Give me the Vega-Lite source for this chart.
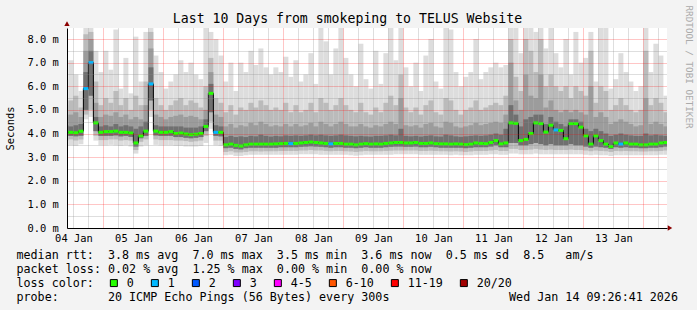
{
"$schema": "https://vega.github.io/schema/vega-lite/v6.json",
"width": 600, "height": 200,
"autosize": {"type": "none"},
"padding": {"left": 67, "top": 28, "right": 30, "bottom": 82},
"background": "#f3f3f3",
"title": {"text": "Last 10 Days from smokeping to TELUS Website", "font": "DejaVu Sans Mono", "fontSize": 13.2, "fontWeight": "normal", "color": "#000000", "anchor": "middle", "frame": "group", "dx": -19.5, "dy": 35, "baseline": "alphabetic", "offset": 4},
"data": {"values": [
{"t":"2026-01-04T08:00","u":"2026-01-04T10:00","a":6.3,"b":5.2,"c":4.7,"d":4.35,"m":4.05,"e":3.9,"f":3.7,"h":3.5,"l":"0"},
{"t":"2026-01-04T10:00","u":"2026-01-04T12:00","a":7.1,"b":5.4,"c":4.8,"d":4.3,"m":4.05,"e":3.9,"f":3.75,"h":3.5,"l":"0"},
{"t":"2026-01-04T12:00","u":"2026-01-04T14:00","a":6.5,"b":5.6,"c":4.9,"d":4.35,"m":4.03,"e":3.88,"f":3.7,"h":3.48,"l":"0"},
{"t":"2026-01-04T14:00","u":"2026-01-04T16:00","a":5.8,"b":5.1,"c":4.7,"d":4.4,"m":4.1,"e":3.9,"f":3.75,"h":3.55,"l":"0"},
{"t":"2026-01-04T16:00","u":"2026-01-04T18:00","a":8.47,"b":8.2,"c":7.5,"d":6.6,"m":5.9,"e":5.0,"f":4.8,"h":4.6,"l":"1"},
{"t":"2026-01-04T18:00","u":"2026-01-04T20:00","a":8.47,"b":8.3,"c":8.0,"d":7.5,"m":7.0,"e":5.6,"f":5.0,"h":4.7,"l":"1"},
{"t":"2026-01-04T20:00","u":"2026-01-04T22:00","a":7.5,"b":6.2,"c":5.3,"d":4.7,"m":4.45,"e":4.1,"f":3.9,"h":3.7,"l":"0"},
{"t":"2026-01-04T22:00","u":"2026-01-05T00:00","a":6.6,"b":5.2,"c":4.7,"d":4.3,"m":4.05,"e":3.9,"f":3.72,"h":3.5,"l":"0"},
{"t":"2026-01-05T00:00","u":"2026-01-05T02:00","a":7.5,"b":5.5,"c":4.8,"d":4.35,"m":4.08,"e":3.9,"f":3.72,"h":3.5,"l":"0"},
{"t":"2026-01-05T02:00","u":"2026-01-05T04:00","a":6.7,"b":5.3,"c":4.75,"d":4.3,"m":4.08,"e":3.9,"f":3.75,"h":3.52,"l":"0"},
{"t":"2026-01-05T04:00","u":"2026-01-05T06:00","a":8.4,"b":5.8,"c":4.9,"d":4.4,"m":4.1,"e":3.92,"f":3.75,"h":3.5,"l":"0"},
{"t":"2026-01-05T06:00","u":"2026-01-05T08:00","a":5.9,"b":5.2,"c":4.7,"d":4.3,"m":4.05,"e":3.88,"f":3.7,"h":3.48,"l":"0"},
{"t":"2026-01-05T08:00","u":"2026-01-05T10:00","a":7.2,"b":5.5,"c":4.8,"d":4.35,"m":4.05,"e":3.9,"f":3.72,"h":3.5,"l":"0"},
{"t":"2026-01-05T10:00","u":"2026-01-05T12:00","a":5.7,"b":5.0,"c":4.6,"d":4.3,"m":4.02,"e":3.86,"f":3.7,"h":3.45,"l":"0"},
{"t":"2026-01-05T12:00","u":"2026-01-05T14:00","a":8.1,"b":5.6,"c":4.7,"d":4.2,"m":3.6,"e":3.45,"f":3.3,"h":3.15,"l":"0"},
{"t":"2026-01-05T14:00","u":"2026-01-05T16:00","a":6.2,"b":5.2,"c":4.6,"d":4.3,"m":3.9,"e":3.8,"f":3.65,"h":3.45,"l":"0"},
{"t":"2026-01-05T16:00","u":"2026-01-05T18:00","a":8.3,"b":6.2,"c":5.2,"d":4.5,"m":4.1,"e":3.9,"f":3.75,"h":3.5,"l":"0"},
{"t":"2026-01-05T18:00","u":"2026-01-05T20:00","a":8.47,"b":8.3,"c":7.6,"d":6.8,"m":6.1,"e":5.4,"f":5.0,"h":4.7,"l":"1"},
{"t":"2026-01-05T20:00","u":"2026-01-05T22:00","a":7.3,"b":5.5,"c":4.8,"d":4.35,"m":4.1,"e":3.92,"f":3.75,"h":3.52,"l":"0"},
{"t":"2026-01-05T22:00","u":"2026-01-06T00:00","a":6.6,"b":5.2,"c":4.7,"d":4.3,"m":4.05,"e":3.9,"f":3.72,"h":3.5,"l":"0"},
{"t":"2026-01-06T00:00","u":"2026-01-06T02:00","a":5.9,"b":5.0,"c":4.6,"d":4.3,"m":4.05,"e":3.9,"f":3.72,"h":3.5,"l":"0"},
{"t":"2026-01-06T02:00","u":"2026-01-06T04:00","a":6.2,"b":5.2,"c":4.7,"d":4.3,"m":4.08,"e":3.9,"f":3.72,"h":3.5,"l":"0"},
{"t":"2026-01-06T04:00","u":"2026-01-06T06:00","a":6.5,"b":5.4,"c":4.75,"d":4.3,"m":4.0,"e":3.85,"f":3.7,"h":3.48,"l":"0"},
{"t":"2026-01-06T06:00","u":"2026-01-06T08:00","a":7.1,"b":5.5,"c":4.8,"d":4.3,"m":4.02,"e":3.85,"f":3.7,"h":3.48,"l":"0"},
{"t":"2026-01-06T08:00","u":"2026-01-06T10:00","a":6.6,"b":5.2,"c":4.7,"d":4.25,"m":3.98,"e":3.82,"f":3.68,"h":3.45,"l":"0"},
{"t":"2026-01-06T10:00","u":"2026-01-06T12:00","a":7.0,"b":5.4,"c":4.75,"d":4.25,"m":3.95,"e":3.8,"f":3.65,"h":3.45,"l":"0"},
{"t":"2026-01-06T12:00","u":"2026-01-06T14:00","a":6.5,"b":5.3,"c":4.7,"d":4.25,"m":3.97,"e":3.82,"f":3.67,"h":3.45,"l":"0"},
{"t":"2026-01-06T14:00","u":"2026-01-06T16:00","a":6.3,"b":5.1,"c":4.6,"d":4.3,"m":4.0,"e":3.85,"f":3.7,"h":3.47,"l":"0"},
{"t":"2026-01-06T16:00","u":"2026-01-06T18:00","a":8.47,"b":6.0,"c":5.0,"d":4.6,"m":4.3,"e":4.1,"f":3.9,"h":3.6,"l":"0"},
{"t":"2026-01-06T18:00","u":"2026-01-06T20:00","a":8.3,"b":7.2,"c":6.6,"d":6.1,"m":5.7,"e":4.9,"f":4.5,"h":4.2,"l":"0"},
{"t":"2026-01-06T20:00","u":"2026-01-06T22:00","a":8.0,"b":5.5,"c":4.8,"d":4.35,"m":4.05,"e":3.9,"f":3.7,"h":3.5,"l":"1"},
{"t":"2026-01-06T22:00","u":"2026-01-07T00:00","a":7.3,"b":5.3,"c":4.7,"d":4.3,"m":4.05,"e":3.88,"f":3.7,"h":3.48,"l":"0"},
{"t":"2026-01-07T00:00","u":"2026-01-07T02:00","a":6.2,"b":4.9,"c":4.3,"d":3.85,"m":3.52,"e":3.38,"f":3.22,"h":3.08,"l":"0"},
{"t":"2026-01-07T02:00","u":"2026-01-07T04:00","a":7.0,"b":5.2,"c":4.4,"d":3.9,"m":3.55,"e":3.4,"f":3.25,"h":3.1,"l":"0"},
{"t":"2026-01-07T04:00","u":"2026-01-07T06:00","a":5.8,"b":4.8,"c":4.25,"d":3.85,"m":3.5,"e":3.35,"f":3.2,"h":3.05,"l":"0"},
{"t":"2026-01-07T06:00","u":"2026-01-07T08:00","a":7.0,"b":5.1,"c":4.35,"d":3.88,"m":3.47,"e":3.33,"f":3.2,"h":3.05,"l":"0"},
{"t":"2026-01-07T08:00","u":"2026-01-07T10:00","a":6.6,"b":5.0,"c":4.3,"d":3.85,"m":3.52,"e":3.38,"f":3.22,"h":3.08,"l":"0"},
{"t":"2026-01-07T10:00","u":"2026-01-07T12:00","a":7.5,"b":5.3,"c":4.45,"d":3.9,"m":3.55,"e":3.4,"f":3.25,"h":3.1,"l":"0"},
{"t":"2026-01-07T12:00","u":"2026-01-07T14:00","a":6.9,"b":5.1,"c":4.35,"d":3.88,"m":3.55,"e":3.4,"f":3.25,"h":3.1,"l":"0"},
{"t":"2026-01-07T14:00","u":"2026-01-07T16:00","a":7.6,"b":5.4,"c":4.5,"d":3.95,"m":3.55,"e":3.4,"f":3.24,"h":3.1,"l":"0"},
{"t":"2026-01-07T16:00","u":"2026-01-07T18:00","a":6.8,"b":5.2,"c":4.4,"d":3.9,"m":3.55,"e":3.4,"f":3.25,"h":3.1,"l":"0"},
{"t":"2026-01-07T18:00","u":"2026-01-07T20:00","a":6.5,"b":5.0,"c":4.3,"d":3.87,"m":3.55,"e":3.4,"f":3.25,"h":3.1,"l":"0"},
{"t":"2026-01-07T20:00","u":"2026-01-07T22:00","a":6.8,"b":5.1,"c":4.35,"d":3.9,"m":3.56,"e":3.4,"f":3.25,"h":3.1,"l":"0"},
{"t":"2026-01-07T22:00","u":"2026-01-08T00:00","a":6.6,"b":5.0,"c":4.3,"d":3.88,"m":3.57,"e":3.42,"f":3.26,"h":3.1,"l":"0"},
{"t":"2026-01-08T00:00","u":"2026-01-08T02:00","a":7.25,"b":5.3,"c":4.4,"d":3.92,"m":3.58,"e":3.42,"f":3.26,"h":3.1,"l":"0"},
{"t":"2026-01-08T02:00","u":"2026-01-08T04:00","a":6.4,"b":4.9,"c":4.3,"d":3.9,"m":3.57,"e":3.42,"f":3.26,"h":3.1,"l":"1"},
{"t":"2026-01-08T04:00","u":"2026-01-08T06:00","a":7.1,"b":5.2,"c":4.4,"d":3.92,"m":3.58,"e":3.42,"f":3.26,"h":3.1,"l":"0"},
{"t":"2026-01-08T06:00","u":"2026-01-08T08:00","a":6.2,"b":4.9,"c":4.3,"d":3.9,"m":3.6,"e":3.44,"f":3.28,"h":3.12,"l":"0"},
{"t":"2026-01-08T08:00","u":"2026-01-08T10:00","a":6.5,"b":5.0,"c":4.35,"d":3.92,"m":3.62,"e":3.45,"f":3.28,"h":3.12,"l":"0"},
{"t":"2026-01-08T10:00","u":"2026-01-08T12:00","a":7.4,"b":5.3,"c":4.45,"d":3.95,"m":3.64,"e":3.46,"f":3.3,"h":3.12,"l":"0"},
{"t":"2026-01-08T12:00","u":"2026-01-08T14:00","a":6.1,"b":4.9,"c":4.3,"d":3.92,"m":3.62,"e":3.45,"f":3.28,"h":3.12,"l":"0"},
{"t":"2026-01-08T14:00","u":"2026-01-08T16:00","a":8.47,"b":5.5,"c":4.5,"d":3.95,"m":3.6,"e":3.44,"f":3.28,"h":3.1,"l":"0"},
{"t":"2026-01-08T16:00","u":"2026-01-08T18:00","a":7.9,"b":5.3,"c":4.4,"d":3.92,"m":3.58,"e":3.42,"f":3.26,"h":3.1,"l":"0"},
{"t":"2026-01-08T18:00","u":"2026-01-08T20:00","a":6.5,"b":5.0,"c":4.3,"d":3.9,"m":3.56,"e":3.4,"f":3.25,"h":3.1,"l":"1"},
{"t":"2026-01-08T20:00","u":"2026-01-08T22:00","a":7.6,"b":5.2,"c":4.4,"d":3.92,"m":3.58,"e":3.42,"f":3.26,"h":3.1,"l":"0"},
{"t":"2026-01-08T22:00","u":"2026-01-09T00:00","a":8.47,"b":5.5,"c":4.5,"d":3.95,"m":3.58,"e":3.42,"f":3.26,"h":3.1,"l":"0"},
{"t":"2026-01-09T00:00","u":"2026-01-09T02:00","a":7.2,"b":5.2,"c":4.4,"d":3.92,"m":3.55,"e":3.4,"f":3.25,"h":3.1,"l":"0"},
{"t":"2026-01-09T02:00","u":"2026-01-09T04:00","a":6.5,"b":5.0,"c":4.3,"d":3.9,"m":3.55,"e":3.4,"f":3.24,"h":3.08,"l":"0"},
{"t":"2026-01-09T04:00","u":"2026-01-09T06:00","a":6.0,"b":4.9,"c":4.3,"d":3.88,"m":3.52,"e":3.38,"f":3.22,"h":3.06,"l":"0"},
{"t":"2026-01-09T06:00","u":"2026-01-09T08:00","a":7.8,"b":5.3,"c":4.4,"d":3.9,"m":3.55,"e":3.4,"f":3.24,"h":3.08,"l":"0"},
{"t":"2026-01-09T08:00","u":"2026-01-09T10:00","a":6.3,"b":4.9,"c":4.3,"d":3.88,"m":3.57,"e":3.42,"f":3.26,"h":3.1,"l":"0"},
{"t":"2026-01-09T10:00","u":"2026-01-09T12:00","a":5.9,"b":4.8,"c":4.25,"d":3.87,"m":3.55,"e":3.4,"f":3.25,"h":3.1,"l":"0"},
{"t":"2026-01-09T12:00","u":"2026-01-09T14:00","a":7.5,"b":5.1,"c":4.35,"d":3.9,"m":3.56,"e":3.4,"f":3.25,"h":3.1,"l":"0"},
{"t":"2026-01-09T14:00","u":"2026-01-09T16:00","a":6.1,"b":4.9,"c":4.3,"d":3.9,"m":3.55,"e":3.4,"f":3.25,"h":3.1,"l":"0"},
{"t":"2026-01-09T16:00","u":"2026-01-09T18:00","a":7.4,"b":5.3,"c":4.4,"d":3.92,"m":3.58,"e":3.42,"f":3.26,"h":3.1,"l":"0"},
{"t":"2026-01-09T18:00","u":"2026-01-09T20:00","a":8.47,"b":5.6,"c":4.5,"d":3.95,"m":3.6,"e":3.44,"f":3.27,"h":3.1,"l":"0"},
{"t":"2026-01-09T20:00","u":"2026-01-09T22:00","a":7.1,"b":5.2,"c":4.4,"d":3.92,"m":3.62,"e":3.45,"f":3.28,"h":3.12,"l":"0"},
{"t":"2026-01-09T22:00","u":"2026-01-10T00:00","a":8.47,"b":6.5,"c":5.5,"d":4.2,"m":3.62,"e":3.45,"f":3.28,"h":3.12,"l":"0"},
{"t":"2026-01-10T00:00","u":"2026-01-10T02:00","a":6.8,"b":5.1,"c":4.35,"d":3.9,"m":3.6,"e":3.44,"f":3.28,"h":3.12,"l":"0"},
{"t":"2026-01-10T02:00","u":"2026-01-10T04:00","a":6.0,"b":4.9,"c":4.3,"d":3.88,"m":3.6,"e":3.44,"f":3.28,"h":3.12,"l":"0"},
{"t":"2026-01-10T04:00","u":"2026-01-10T06:00","a":7.0,"b":5.1,"c":4.35,"d":3.9,"m":3.62,"e":3.45,"f":3.28,"h":3.12,"l":"0"},
{"t":"2026-01-10T06:00","u":"2026-01-10T08:00","a":5.8,"b":4.8,"c":4.25,"d":3.87,"m":3.58,"e":3.42,"f":3.26,"h":3.1,"l":"0"},
{"t":"2026-01-10T08:00","u":"2026-01-10T10:00","a":7.3,"b":5.2,"c":4.4,"d":3.9,"m":3.58,"e":3.42,"f":3.26,"h":3.1,"l":"0"},
{"t":"2026-01-10T10:00","u":"2026-01-10T12:00","a":8.0,"b":5.4,"c":4.45,"d":3.92,"m":3.6,"e":3.44,"f":3.27,"h":3.1,"l":"0"},
{"t":"2026-01-10T12:00","u":"2026-01-10T14:00","a":6.2,"b":4.9,"c":4.3,"d":3.88,"m":3.57,"e":3.42,"f":3.26,"h":3.1,"l":"0"},
{"t":"2026-01-10T14:00","u":"2026-01-10T16:00","a":5.9,"b":4.8,"c":4.25,"d":3.87,"m":3.56,"e":3.4,"f":3.25,"h":3.1,"l":"0"},
{"t":"2026-01-10T16:00","u":"2026-01-10T18:00","a":8.47,"b":5.5,"c":4.5,"d":3.95,"m":3.56,"e":3.4,"f":3.25,"h":3.1,"l":"0"},
{"t":"2026-01-10T18:00","u":"2026-01-10T20:00","a":8.4,"b":5.4,"c":4.45,"d":3.92,"m":3.55,"e":3.4,"f":3.24,"h":3.08,"l":"0"},
{"t":"2026-01-10T20:00","u":"2026-01-10T22:00","a":6.6,"b":5.0,"c":4.3,"d":3.88,"m":3.56,"e":3.4,"f":3.25,"h":3.1,"l":"0"},
{"t":"2026-01-10T22:00","u":"2026-01-11T00:00","a":6.0,"b":4.8,"c":4.25,"d":3.86,"m":3.55,"e":3.4,"f":3.24,"h":3.08,"l":"0"},
{"t":"2026-01-11T00:00","u":"2026-01-11T02:00","a":6.4,"b":5.0,"c":4.3,"d":3.88,"m":3.53,"e":3.38,"f":3.22,"h":3.08,"l":"0"},
{"t":"2026-01-11T02:00","u":"2026-01-11T04:00","a":6.6,"b":5.1,"c":4.35,"d":3.9,"m":3.55,"e":3.4,"f":3.24,"h":3.08,"l":"0"},
{"t":"2026-01-11T04:00","u":"2026-01-11T06:00","a":8.0,"b":5.4,"c":4.45,"d":3.92,"m":3.6,"e":3.42,"f":3.26,"h":3.1,"l":"0"},
{"t":"2026-01-11T06:00","u":"2026-01-11T08:00","a":6.3,"b":5.0,"c":4.35,"d":3.9,"m":3.58,"e":3.42,"f":3.26,"h":3.1,"l":"0"},
{"t":"2026-01-11T08:00","u":"2026-01-11T10:00","a":6.6,"b":5.1,"c":4.4,"d":3.92,"m":3.57,"e":3.42,"f":3.26,"h":3.1,"l":"0"},
{"t":"2026-01-11T10:00","u":"2026-01-11T12:00","a":6.8,"b":5.2,"c":4.45,"d":3.95,"m":3.62,"e":3.45,"f":3.28,"h":3.12,"l":"0"},
{"t":"2026-01-11T12:00","u":"2026-01-11T14:00","a":7.0,"b":5.3,"c":4.5,"d":4.0,"m":3.7,"e":3.5,"f":3.3,"h":3.12,"l":"0"},
{"t":"2026-01-11T14:00","u":"2026-01-11T16:00","a":6.8,"b":5.2,"c":4.45,"d":3.95,"m":3.56,"e":3.42,"f":3.26,"h":3.1,"l":"0"},
{"t":"2026-01-11T16:00","u":"2026-01-11T18:00","a":6.9,"b":5.6,"c":4.8,"d":4.2,"m":3.6,"e":3.42,"f":3.26,"h":3.1,"l":"0"},
{"t":"2026-01-11T18:00","u":"2026-01-11T20:00","a":8.47,"b":8.0,"c":7.0,"d":5.2,"m":4.45,"e":3.6,"f":3.35,"h":3.15,"l":"0"},
{"t":"2026-01-11T20:00","u":"2026-01-11T22:00","a":8.47,"b":6.4,"c":5.4,"d":4.8,"m":4.43,"e":3.6,"f":3.35,"h":3.15,"l":"0"},
{"t":"2026-01-11T22:00","u":"2026-01-12T00:00","a":7.4,"b":5.8,"c":5.0,"d":4.3,"m":3.7,"e":3.5,"f":3.3,"h":3.12,"l":"0"},
{"t":"2026-01-12T00:00","u":"2026-01-12T02:00","a":8.47,"b":8.0,"c":6.5,"d":4.6,"m":3.75,"e":3.5,"f":3.3,"h":3.12,"l":"0"},
{"t":"2026-01-12T02:00","u":"2026-01-12T04:00","a":8.47,"b":7.5,"c":5.6,"d":4.7,"m":4.0,"e":3.55,"f":3.32,"h":3.12,"l":"0"},
{"t":"2026-01-12T04:00","u":"2026-01-12T06:00","a":8.3,"b":6.6,"c":5.5,"d":4.8,"m":4.45,"e":3.6,"f":3.35,"h":3.15,"l":"0"},
{"t":"2026-01-12T06:00","u":"2026-01-12T08:00","a":8.47,"b":8.0,"c":6.5,"d":4.8,"m":4.42,"e":3.55,"f":3.32,"h":3.12,"l":"0"},
{"t":"2026-01-12T08:00","u":"2026-01-12T10:00","a":7.6,"b":6.0,"c":5.1,"d":4.4,"m":4.06,"e":3.5,"f":3.3,"h":3.12,"l":"0"},
{"t":"2026-01-12T10:00","u":"2026-01-12T12:00","a":8.47,"b":6.5,"c":5.4,"d":4.7,"m":4.35,"e":3.55,"f":3.32,"h":3.12,"l":"0"},
{"t":"2026-01-12T12:00","u":"2026-01-12T14:00","a":7.4,"b":6.0,"c":5.0,"d":4.5,"m":4.15,"e":3.5,"f":3.3,"h":3.12,"l":"1"},
{"t":"2026-01-12T14:00","u":"2026-01-12T16:00","a":6.8,"b":5.8,"c":4.9,"d":4.4,"m":4.13,"e":3.5,"f":3.3,"h":3.12,"l":"0"},
{"t":"2026-01-12T16:00","u":"2026-01-12T18:00","a":8.0,"b":6.0,"c":5.0,"d":4.3,"m":3.78,"e":3.5,"f":3.3,"h":3.12,"l":"0"},
{"t":"2026-01-12T18:00","u":"2026-01-12T20:00","a":6.5,"b":5.5,"c":4.9,"d":4.6,"m":4.42,"e":3.55,"f":3.32,"h":3.12,"l":"0"},
{"t":"2026-01-12T20:00","u":"2026-01-12T22:00","a":8.3,"b":6.0,"c":5.0,"d":4.6,"m":4.42,"e":3.5,"f":3.3,"h":3.12,"l":"0"},
{"t":"2026-01-12T22:00","u":"2026-01-13T00:00","a":7.0,"b":5.8,"c":4.9,"d":4.5,"m":4.27,"e":3.5,"f":3.3,"h":3.12,"l":"0"},
{"t":"2026-01-13T00:00","u":"2026-01-13T02:00","a":7.2,"b":5.6,"c":4.8,"d":4.2,"m":3.9,"e":3.45,"f":3.28,"h":3.1,"l":"0"},
{"t":"2026-01-13T02:00","u":"2026-01-13T04:00","a":8.3,"b":7.5,"c":6.0,"d":4.1,"m":3.55,"e":3.4,"f":3.25,"h":3.08,"l":"0"},
{"t":"2026-01-13T04:00","u":"2026-01-13T06:00","a":6.2,"b":5.3,"c":4.7,"d":4.2,"m":3.9,"e":3.45,"f":3.28,"h":3.1,"l":"0"},
{"t":"2026-01-13T06:00","u":"2026-01-13T08:00","a":8.47,"b":6.0,"c":4.9,"d":4.1,"m":3.7,"e":3.42,"f":3.26,"h":3.08,"l":"0"},
{"t":"2026-01-13T08:00","u":"2026-01-13T10:00","a":8.47,"b":5.8,"c":4.7,"d":4.0,"m":3.55,"e":3.4,"f":3.25,"h":3.08,"l":"0"},
{"t":"2026-01-13T10:00","u":"2026-01-13T12:00","a":5.9,"b":5.0,"c":4.4,"d":3.9,"m":3.45,"e":3.35,"f":3.22,"h":3.05,"l":"0"},
{"t":"2026-01-13T12:00","u":"2026-01-13T14:00","a":6.3,"b":5.2,"c":4.5,"d":3.95,"m":3.6,"e":3.42,"f":3.26,"h":3.08,"l":"0"},
{"t":"2026-01-13T14:00","u":"2026-01-13T16:00","a":7.4,"b":5.5,"c":4.6,"d":4.0,"m":3.55,"e":3.4,"f":3.25,"h":3.08,"l":"1"},
{"t":"2026-01-13T16:00","u":"2026-01-13T18:00","a":6.6,"b":5.2,"c":4.5,"d":3.95,"m":3.6,"e":3.42,"f":3.26,"h":3.08,"l":"0"},
{"t":"2026-01-13T18:00","u":"2026-01-13T20:00","a":6.2,"b":5.0,"c":4.4,"d":3.92,"m":3.55,"e":3.4,"f":3.25,"h":3.08,"l":"0"},
{"t":"2026-01-13T20:00","u":"2026-01-13T22:00","a":5.8,"b":4.9,"c":4.3,"d":3.9,"m":3.55,"e":3.4,"f":3.25,"h":3.08,"l":"0"},
{"t":"2026-01-13T22:00","u":"2026-01-14T00:00","a":6.0,"b":5.0,"c":4.35,"d":3.9,"m":3.52,"e":3.38,"f":3.24,"h":3.08,"l":"0"},
{"t":"2026-01-14T00:00","u":"2026-01-14T02:00","a":8.47,"b":7.5,"c":5.5,"d":4.0,"m":3.52,"e":3.38,"f":3.24,"h":3.08,"l":"0"},
{"t":"2026-01-14T02:00","u":"2026-01-14T04:00","a":6.6,"b":5.2,"c":4.4,"d":3.92,"m":3.55,"e":3.4,"f":3.25,"h":3.08,"l":"0"},
{"t":"2026-01-14T04:00","u":"2026-01-14T06:00","a":7.8,"b":5.5,"c":4.5,"d":3.95,"m":3.55,"e":3.4,"f":3.25,"h":3.08,"l":"0"},
{"t":"2026-01-14T06:00","u":"2026-01-14T08:00","a":7.3,"b":5.3,"c":4.4,"d":3.92,"m":3.6,"e":3.42,"f":3.26,"h":3.1,"l":"0"},
{"t":"2026-01-14T08:00","u":"2026-01-14T10:00","a":5.6,"b":4.9,"c":4.3,"d":3.9,"m":3.62,"e":3.45,"f":3.28,"h":3.1,"l":"0"}
]},
"layer": [
{"mark": {"type": "rect", "color": "#dddddd", "clip": true},
 "encoding": {
  "x": {"field": "t", "type": "temporal",
   "scale": {"domain": [{"year": 2026, "month": 1, "date": 4, "hours": 9, "minutes": 26, "seconds": 41}, {"year": 2026, "month": 1, "date": 14, "hours": 9, "minutes": 26, "seconds": 41}]},
   "axis": {"orient": "bottom", "zindex": 1, "grid": false, "ticks": false, "domain": true, "domainColor": "#000000", "domainWidth": 1,
    "values": [{"year": 2026, "month": 1, "date": 4, "hours": 12}, {"year": 2026, "month": 1, "date": 5, "hours": 12}, {"year": 2026, "month": 1, "date": 6, "hours": 12}, {"year": 2026, "month": 1, "date": 7, "hours": 12}, {"year": 2026, "month": 1, "date": 8, "hours": 12}, {"year": 2026, "month": 1, "date": 9, "hours": 12}, {"year": 2026, "month": 1, "date": 10, "hours": 12}, {"year": 2026, "month": 1, "date": 11, "hours": 12}, {"year": 2026, "month": 1, "date": 12, "hours": 12}, {"year": 2026, "month": 1, "date": 13, "hours": 12}],
    "format": "%d %b", "labelBaseline": "alphabetic", "labelPadding": 13.5, "labelAlign": "center",
    "title": ["median rtt:\u00a0\u00a03.8 ms avg\u00a0\u00a07.0 ms max\u00a0\u00a03.5 ms min\u00a0\u00a03.6 ms now\u00a0\u00a00.5 ms sd\u00a0\u00a08.5\u00a0\u00a0\u00a0am/s", "packet loss: 0.02 % avg\u00a0\u00a01.25 % max\u00a0\u00a00.00 % min\u00a0\u00a00.00 % now", "loss color:", "probe:\u00a0\u00a0\u00a0\u00a0\u00a0\u00a0\u00a020 ICMP Echo Pings (56 Bytes) every 300s\u00a0\u00a0\u00a0\u00a0\u00a0\u00a0\u00a0\u00a0\u00a0\u00a0\u00a0\u00a0\u00a0\u00a0\u00a0\u00a0\u00a0Wed Jan 14 09:26:41 2026"],
    "titleFont": "DejaVu Sans Mono", "titleFontSize": 11.7, "titleFontWeight": "normal", "titleColor": "#000000", "titleAnchor": "start", "titleAlign": "left", "titleBaseline": "alphabetic", "titleX": -51, "titleY": 30, "titleLineHeight": 14, "titleLimit": 2000}},
  "x2": {"field": "u"},
  "y": {"field": "a", "type": "quantitative", "scale": {"domain": [0, 8.466], "nice": false, "zero": false},
   "axis": {"orient": "left", "zindex": 1, "values": [0, 1, 2, 3, 4, 5, 6, 7, 8], "labelExpr": "format(datum.value, '.1f') + ' m'", "grid": true, "gridColor": "#ff0000", "gridOpacity": 0.45, "gridDash": [1, 1], "gridWidth": 1, "ticks": false, "domain": true, "domainColor": "#000000", "labelPadding": 8.7, "labelBaseline": "middle",
    "title": "Seconds", "titleFont": "DejaVu Sans Mono", "titleFontSize": 10.4, "titleFontWeight": "normal", "titleColor": "#000000", "titleAngle": -90, "titleX": -57, "titleY": 100, "titleAlign": "center", "titleBaseline": "middle"}},
  "y2": {"field": "h"}}},
{"mark": {"type": "rect", "color": "#bbbbbb", "clip": true},
 "encoding": {
  "x": {"field": "t", "type": "temporal",
   "axis": {"orient": "bottom", "zindex": 1, "values": [{"year": 2026, "month": 1, "date": 4, "hours": 12}, {"year": 2026, "month": 1, "date": 4, "hours": 18}, {"year": 2026, "month": 1, "date": 5, "hours": 6}, {"year": 2026, "month": 1, "date": 5, "hours": 12}, {"year": 2026, "month": 1, "date": 5, "hours": 18}, {"year": 2026, "month": 1, "date": 6, "hours": 6}, {"year": 2026, "month": 1, "date": 6, "hours": 12}, {"year": 2026, "month": 1, "date": 6, "hours": 18}, {"year": 2026, "month": 1, "date": 7, "hours": 6}, {"year": 2026, "month": 1, "date": 7, "hours": 12}, {"year": 2026, "month": 1, "date": 7, "hours": 18}, {"year": 2026, "month": 1, "date": 8, "hours": 6}, {"year": 2026, "month": 1, "date": 8, "hours": 12}, {"year": 2026, "month": 1, "date": 8, "hours": 18}, {"year": 2026, "month": 1, "date": 9, "hours": 6}, {"year": 2026, "month": 1, "date": 9, "hours": 12}, {"year": 2026, "month": 1, "date": 9, "hours": 18}, {"year": 2026, "month": 1, "date": 10, "hours": 6}, {"year": 2026, "month": 1, "date": 10, "hours": 12}, {"year": 2026, "month": 1, "date": 10, "hours": 18}, {"year": 2026, "month": 1, "date": 11, "hours": 6}, {"year": 2026, "month": 1, "date": 11, "hours": 12}, {"year": 2026, "month": 1, "date": 11, "hours": 18}, {"year": 2026, "month": 1, "date": 12, "hours": 6}, {"year": 2026, "month": 1, "date": 12, "hours": 12}, {"year": 2026, "month": 1, "date": 12, "hours": 18}, {"year": 2026, "month": 1, "date": 13, "hours": 6}, {"year": 2026, "month": 1, "date": 13, "hours": 12}, {"year": 2026, "month": 1, "date": 13, "hours": 18}, {"year": 2026, "month": 1, "date": 14, "hours": 6}],
    "grid": true, "gridColor": "#888888", "gridOpacity": 0.55, "gridDash": [1, 1], "labels": false, "ticks": false, "domain": false, "title": null}},
  "x2": {"field": "u"},
  "y": {"field": "b", "type": "quantitative",
   "axis": {"orient": "left", "zindex": 1, "values": [0.5, 1.5, 2.5, 3.5, 4.5, 5.5, 6.5, 7.5], "grid": true, "gridColor": "#888888", "gridOpacity": 0.55, "gridDash": [1, 1], "labels": false, "ticks": false, "domain": false, "title": null}},
  "y2": {"field": "f"}}},
{"mark": {"type": "rect", "color": "#9c9c9c", "clip": true},
 "encoding": {
  "x": {"field": "t", "type": "temporal",
   "axis": {"orient": "bottom", "zindex": 1, "values": [{"year": 2026, "month": 1, "date": 5}, {"year": 2026, "month": 1, "date": 6}, {"year": 2026, "month": 1, "date": 7}, {"year": 2026, "month": 1, "date": 8}, {"year": 2026, "month": 1, "date": 9}, {"year": 2026, "month": 1, "date": 10}, {"year": 2026, "month": 1, "date": 11}, {"year": 2026, "month": 1, "date": 12}, {"year": 2026, "month": 1, "date": 13}, {"year": 2026, "month": 1, "date": 14}],
    "grid": true, "gridColor": "#ff0000", "gridOpacity": 0.45, "gridDash": [1, 1], "labels": false, "ticks": false, "domain": false, "title": null}},
  "x2": {"field": "u"},
  "y": {"field": "c", "type": "quantitative",
   "axis": {"orient": "right", "labels": false, "ticks": false, "domain": false, "grid": false, "title": "RRDTOOL / TOBI OETIKER", "titleAngle": 90, "titleX": 21, "titleY": -23, "titleAlign": "left", "titleBaseline": "middle", "titleFont": "DejaVu Sans Mono", "titleFontSize": 9.3, "titleFontWeight": "normal", "titleColor": "#aaaaaa"}},
  "y2": {"field": "e"}}},
{"mark": {"type": "rect", "color": "#707070", "clip": true},
 "encoding": {
  "x": {"field": "t", "type": "temporal", "axis": null},
  "x2": {"field": "u"},
  "y": {"field": "d", "type": "quantitative", "axis": null},
  "y2": {"field": "e"}}},
{"mark": {"type": "line", "color": "#000000", "strokeWidth": 1, "interpolate": "step", "clip": true, "xOffset": 2.5},
 "encoding": {
  "x": {"field": "t", "type": "temporal", "axis": null},
  "y": {"field": "m", "type": "quantitative", "axis": null}}},
{"mark": {"type": "tick", "orient": "horizontal", "size": 5, "thickness": 3, "opacity": 1, "clip": true, "xOffset": 2.5},
 "encoding": {
  "x": {"field": "t", "type": "temporal", "axis": null},
  "y": {"field": "m", "type": "quantitative", "axis": null},
  "color": {"field": "l", "type": "nominal",
   "scale": {"domain": ["0", "1", "2", "3", "4-5", "6-10", "11-19", "20/20"], "range": ["#26ff00", "#00b8ff", "#0059ff", "#7e00ff", "#ff00ff", "#ff5500", "#ff0000", "#a10000"]},
   "legend": {"orient": "none", "legendX": 41, "legendY": 249, "direction": "horizontal", "title": null, "symbolType": "square", "symbolSize": 49, "symbolStrokeColor": "#000000", "symbolStrokeWidth": 1, "symbolOpacity": 1, "labelFont": "DejaVu Sans Mono", "labelFontSize": 11.7, "labelColor": "#000000", "columnPadding": 15, "labelOffset": 7, "padding": 0, "labelLimit": 200}}}},
{"data": {"values": [{"p": "2026-01-04T09:26:41", "v": 8.65}]},
 "mark": {"type": "point", "shape": "triangle-up", "filled": true, "color": "#8b0000", "size": 28, "opacity": 1, "clip": false},
 "encoding": {
  "x": {"field": "p", "type": "temporal", "axis": null},
  "y": {"field": "v", "type": "quantitative", "axis": null}}},
{"data": {"values": [{"p": "2026-01-14T10:38:00", "v": 0}]},
 "mark": {"type": "point", "shape": "triangle-right", "filled": true, "color": "#8b0000", "size": 28, "opacity": 1, "clip": false},
 "encoding": {
  "x": {"field": "p", "type": "temporal", "axis": null},
  "y": {"field": "v", "type": "quantitative", "axis": null}}}
],
"resolve": {"axis": {"x": "independent", "y": "independent"}},
"config": {
 "view": {"fill": "#ffffff", "stroke": null},
 "font": "DejaVu Sans Mono",
 "axis": {"labelFont": "DejaVu Sans Mono", "labelFontSize": 10.4, "labelColor": "#000000", "labelFlush": false, "labelOverlap": false, "titleFont": "DejaVu Sans Mono"}
}
}
